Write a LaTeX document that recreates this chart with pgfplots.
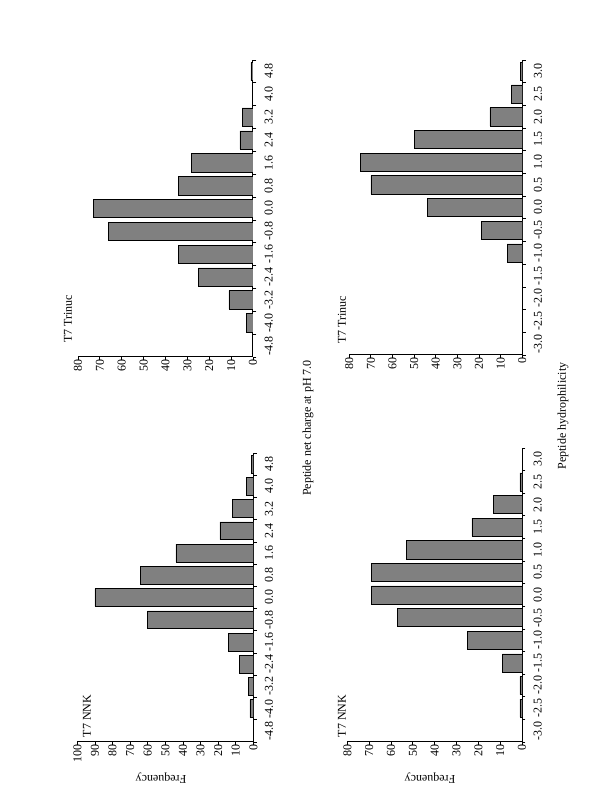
\documentclass[border=0pt]{standalone}
\usepackage{fontspec}
\setmainfont{Liberation Serif}
\usepackage{pgfplots}
\pgfplotsset{compat=1.18}
\definecolor{barfill}{RGB}{128,128,128}
\newcommand{\lbl}{\fontsize{9}{10.8}\selectfont}
\pgfplotsset{
  panel/.style={
    scale only axis, xbar, bar width=0.8, x dir=reverse,
    xmin=0, ymin=-0.5, ymax=12.5, enlargelimits=false,
    axis x line*=bottom, axis y line*=right,
    axis line style={black, line width=0.75pt},
    tick align=outside, major tick length=0pt, minor tick length=2.5pt,
    every minor tick/.append style={black, line width=0.6pt},
    ytick={0,...,12}, minor ytick={-0.5,0.5,...,12.5},
    yticklabel style={rotate=90, anchor=north, inner sep=0pt, font=\lbl},
    xticklabel style={rotate=90, anchor=east, inner sep=0pt, font=\lbl},
    yticklabel shift=8.5pt, xticklabel shift=2pt,
    cycle list={{fill=barfill, draw=black, line width=0.75pt}},
  },
  charge/.style={yticklabels={-4.8,-4.0,-3.2,-2.4,-1.6,-0.8,0.0,0.8,1.6,2.4,3.2,4.0,4.8}},
  hydro/.style={yticklabels={-3.0,-2.5,-2.0,-1.5,-1.0,-0.5,0.0,0.5,1.0,1.5,2.0,2.5,3.0}},
  f80/.style={xmax=80, xtick={0,10,...,80}, minor xtick={0,10,...,80},
    xticklabels={0,10,20,30,40,50,60,70,80}},
  f100/.style={xmax=100, xtick={0,10,...,100}, minor xtick={0,10,...,100},
    xticklabels={0,10,20,30,40,50,60,70,80,90,100}},
}
\begin{document}
\begin{tikzpicture}
\path[use as bounding box] (0,0) rectangle (450pt,600.75pt);
% T7 Trinuc, net charge
\begin{axis}[panel, charge, f80, at={(189.75pt,333pt)}, anchor=south east,
  width=131.25pt, height=222.75pt]
\addplot coordinates {(3,1) (11,2) (25,3) (34,4) (66,5) (73,6) (34,7) (28,8) (6,9) (5,10) (1,12)};
\end{axis}
% T7 NNK, net charge
\begin{axis}[panel, charge, f100, at={(190pt,44.25pt)}, anchor=south east,
  width=132pt, height=216.75pt]
\addplot coordinates {(2,1) (3,2) (8,3) (14,4) (60,5) (90,6) (64,7) (44,8) (19,9) (12,10) (4,11) (1,12)};
\end{axis}
% T7 Trinuc, hydrophilicity
\begin{axis}[panel, hydro, f80, at={(391.7pt,334.5pt)}, anchor=south east,
  width=129.75pt, height=221.25pt]
\addplot coordinates {(7,4) (19,5) (44,6) (70,7) (75,8) (50,9) (15,10) (5,11) (1,12)};
\end{axis}
% T7 NNK, hydrophilicity
\begin{axis}[panel, hydro, f80, at={(391.5pt,44.25pt)}, anchor=south east,
  width=131pt, height=220.5pt]
\addplot coordinates {(1,1) (1,2) (9,3) (25,4) (57,5) (69,6) (69,7) (53,8) (23,9) (13,10) (1,11)};
\end{axis}
\node[rotate=90, font=\lbl] at (51pt,361.5pt) {T7 Trinuc};
\node[rotate=90, font=\lbl] at (256.5pt,360.75pt) {T7 Trinuc};
\node[rotate=90, font=\lbl] at (65.25pt,63.75pt) {T7 NNK};
\node[rotate=90, font=\lbl] at (256.5pt,63.75pt) {T7 NNK};
\node[rotate=90, font=\lbl] at (231pt,279.75pt) {Peptide net charge at pH 7.0};
\node[rotate=90, font=\lbl] at (422.25pt,288.75pt) {Peptide hydrophilicity};
\node[rotate=180, font=\lbl] at (120.75pt,16.9pt) {Frequency};
\node[rotate=180, font=\lbl] at (322.5pt,16.9pt) {Frequency};
\end{tikzpicture}
\end{document}
